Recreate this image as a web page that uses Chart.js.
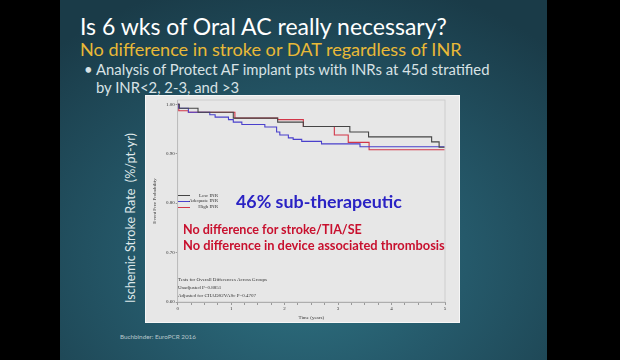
<!DOCTYPE html>
<html>
<head>
<meta charset="utf-8">
<script src="https://cdn.jsdelivr.net/npm/chart.js@4.4.1/dist/chart.umd.min.js"></script>
<style>
  html, body { margin: 0; padding: 0; background: #000; }
  #stage { position: relative; width: 620px; height: 360px; overflow: hidden; background: #000; }
  #slide {
    position: absolute; left: 60px; top: 0; width: 487px; height: 360px;
    background: radial-gradient(ellipse 75% 80% at 50% 72%, #2f7484 0%, #25596a 45%, #1a3b48 100%);
  }
  .txt { position: absolute; white-space: nowrap; font-family: Lato, "Open Sans", sans-serif; line-height: 1; }
  #panel {
    position: absolute; left: 145px; top: 95px; width: 313px; height: 226px;
    background: #e7e7e7; border: 1px solid #f6f6f6;
  }
  #km { position: absolute; left: 0; top: 0; }
  .small { position: absolute; white-space: nowrap; font-family: "Liberation Serif", serif; font-size: 5px; color: #333; line-height: 1; }
</style>
</head>
<body>
<div id="stage">
  <div id="slide"></div>
  <div id="title" class="txt" style="color:#ffffff">Is 6 wks of Oral AC really necessary?</div>
  <div id="sub" class="txt" style="color:#e9b937">No difference in stroke or DAT regardless of INR</div>
  <div id="dot" class="txt" style="color:#d8e2e5">&bull;</div>
  <div id="b1" class="txt" style="color:#d8e2e5">Analysis of Protect AF implant pts with INRs at 45d stratified</div>
  <div id="b2" class="txt" style="color:#d8e2e5">by INR&lt;2, 2-3, and &gt;3</div>
  <div id="ylab" class="txt" style="color:#dfe8ea; transform-origin: 0 0; transform: rotate(-90deg)">Ischemic Stroke Rate&nbsp; (%/pt-yr)</div>
  <div id="cap" class="txt" style="color:#b9c8cc">Buchbinder: EuroPCR 2016</div>

  <div id="panel">
    <canvas id="km" width="313" height="226"></canvas>
  </div>
  <div id="legend"></div>
  <div id="tests"></div>
  <div id="sub1" class="txt" style="color:#2a22c4; font-weight:700">46% sub-therapeutic</div>
  <div id="red1" class="txt" style="color:#c8102e; font-weight:700">No difference for stroke/TIA/SE</div>
  <div id="red2" class="txt" style="color:#c8102e; font-weight:700">No difference in device associated thrombosis</div>
</div>

<script>
// ─── Data ────────────────────────────────────────────
var seriesNames  = ['Low INR', 'Adequate INR', 'High INR'];
var seriesColors = ['#454545', '#4a40cc', '#d23648'];

// step times (years) and event-free probability held from that time on
var lowT  = [0, 0.03, 0.38, 1.04, 1.87, 2.35, 3.22, 3.57, 4.75, 4.89, 4.99];
var lowV  = [1.000, 0.992, 0.984, 0.972, 0.964, 0.955, 0.944, 0.934, 0.924, 0.913, 0.913];

var adqT  = [0, 0.02, 0.20, 0.60, 0.70, 0.95, 1.04, 1.20, 1.63, 1.85, 1.91, 2.07, 2.16, 2.32, 2.69, 3.41, 4.99];
var adqV  = [1.000, 0.992, 0.984, 0.979, 0.974, 0.969, 0.964, 0.959, 0.954, 0.944, 0.938, 0.932, 0.929, 0.925, 0.920, 0.914, 0.914];

var highT = [0, 0.02, 0.20, 1.07, 1.87, 2.35, 2.93, 3.19, 3.58, 4.99];
var highV = [1.000, 0.987, 0.984, 0.972, 0.969, 0.955, 0.938, 0.923, 0.908, 0.908];

// major labelled ticks plus the small unlabelled ones SAS puts between them
var xTicks = [0, 0.25, 0.5, 0.75, 1, 1.25, 1.5, 1.75, 2, 2.25, 2.5, 2.75, 3, 3.25, 3.5, 3.75, 4, 4.25, 4.5, 4.75, 5];
var yTicks = [0.60, 0.70, 0.80, 0.90, 1.00];

var testLines = [
  'Tests for Overall Differences Across Groups',
  'Unadjusted P=0.8851',
  'Adjusted for CHADS2VASc P=0.4707'
];

// ─── Slide text placement ────────────────────────────
var $ = function(id) { return document.getElementById(id); };

function place(id, x, cy, w) {
  var el = $(id);
  el.style.fontSize = '20px';
  var r = w / el.getBoundingClientRect().width;
  var fs = 20 * r;
  el.style.fontSize = fs + 'px';
  el.style.left = x + 'px';
  el.style.top = (cy - fs / 2) + 'px';
  return fs;
}

place('title', 80, 27, 367);
place('sub', 80, 49, 382);
var bfs = place('b1', 96, 69, 394);
$('b2').style.fontSize = bfs + 'px';
$('b2').style.left = '96px';
$('b2').style.top = (87 - bfs / 2) + 'px';
$('dot').style.fontSize = bfs + 'px';
$('dot').style.left = '84px';
$('dot').style.top = (69 - bfs / 2) + 'px';
place('cap', 120, 337, 76);
place('sub1', 236, 202, 166);
place('red1', 183, 230, 179);
place('red2', 183, 245, 262);

// rotated axis label: 170px long, centred at (131, 218)
(function() {
  var el = $('ylab');
  el.style.fontSize = '20px';
  var w = el.getBoundingClientRect().height; // rotated, so height = length
  var fs = 20 * 170 / w;
  el.style.fontSize = fs + 'px';
  el.style.left = (131 - fs / 2) + 'px';
  el.style.top = (218 + 85) + 'px';
})();

// inner legend + test note (SAS style, tiny serif)
(function() {
  var lg = $('legend');
  seriesNames.forEach(function(n, i) {
    var y = 195 + i * 5.8;
    var ln = document.createElement('div');
    ln.style.cssText = 'position:absolute;left:178px;width:12px;height:0;border-top:1px solid ' + seriesColors[i] + ';top:' + y + 'px';
    lg.appendChild(ln);
    var t = document.createElement('div');
    t.className = 'small';
    t.textContent = n;
    t.style.right = (620 - 218) + 'px';
    t.style.top = (y - 2.5) + 'px';
    lg.appendChild(t);
  });
  var ts = $('tests');
  testLines.forEach(function(s, i) {
    var t = document.createElement('div');
    t.className = 'small';
    t.textContent = s;
    t.style.left = '178px';
    t.style.top = (276.5 + i * 8) + 'px';
    ts.appendChild(t);
  });
})();

// ─── KM chart ────────────────────────────────────────
function pts(t, v) { return t.map(function(x, i) { return { x: x, y: v[i] }; }); }

var frame = {
  id: 'frame',
  beforeDatasetsDraw: function(c) {
    var a = c.chartArea, ctx = c.ctx;
    ctx.save();
    ctx.strokeStyle = '#c9c9c9';
    ctx.lineWidth = 0.8;
    ctx.strokeRect(a.left, a.top, a.right - a.left, a.bottom - a.top);
    ctx.restore();
  }
};

var smallFont = { family: '"Liberation Serif", serif', size: 5 };

new Chart($('km').getContext('2d'), {
  type: 'line',
  data: {
    datasets: [
      { label: seriesNames[0], data: pts(lowT, lowV),  borderColor: seriesColors[0] },
      { label: seriesNames[1], data: pts(adqT, adqV),  borderColor: seriesColors[1] },
      { label: seriesNames[2], data: pts(highT, highV), borderColor: seriesColors[2] }
    ].map(function(d) {
      d.stepped = true; d.borderWidth = 1.1; d.pointRadius = 0; d.fill = false;
      return d;
    })
  },
  options: {
    responsive: false, animation: false,
    devicePixelRatio: 1,
    layout: { padding: { left: 6, right: 14, top: 3, bottom: 0 } },
    plugins: { legend: { display: false }, tooltip: { enabled: false } },
    scales: {
      x: {
        type: 'linear', min: 0, max: 5,
        afterFit: function(s) { s.height = 20; },
        afterBuildTicks: function(s) { s.ticks = xTicks.map(function(v) { return { value: v }; }); },
        ticks: {
          font: smallFont, color: '#333', padding: 1, maxRotation: 0, autoSkip: false,
          callback: function(v) { return Number.isInteger(v) ? String(v) : ''; }
        },
        grid: {
          display: true, drawOnChartArea: false, color: '#999',
          tickLength: function(ctx) { return (ctx.tick && !Number.isInteger(ctx.tick.value)) ? 1.5 : 3; }
        },
        border: { color: '#8a8a8a', width: 0.8 },
        title: { display: true, text: 'Time (years)', font: smallFont, color: '#333', padding: { top: 0, bottom: 1 } }
      },
      y: {
        min: 0.6, max: 1.0087,
        afterFit: function(s) { s.width = 25.7; },
        afterBuildTicks: function(s) { s.ticks = yTicks.map(function(v) { return { value: v }; }); },
        ticks: { font: smallFont, color: '#333', padding: 1, callback: function(v) { return v.toFixed(2); } },
        grid: { display: true, drawOnChartArea: false, tickLength: 2, color: '#999' },
        border: { color: '#8a8a8a', width: 0.8 },
        title: { display: true, text: 'Event Free Probability', font: smallFont, color: '#333', padding: { top: 0, bottom: 0 } }
      }
    }
  },
  plugins: [frame]
});
</script>
</body>
</html>
